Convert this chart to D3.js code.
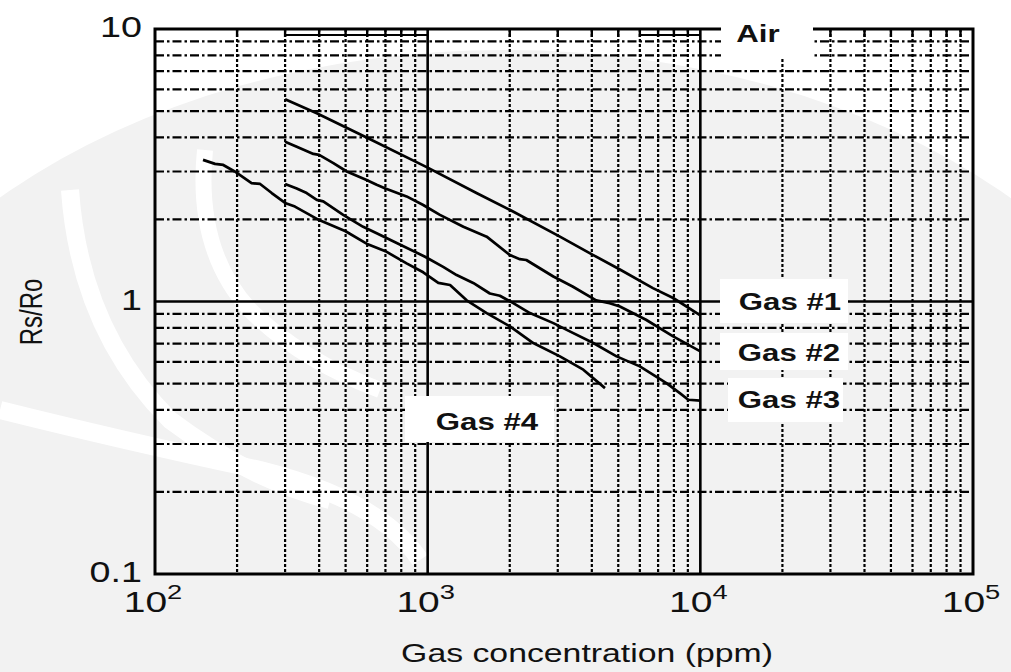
<!DOCTYPE html>
<html>
<head>
<meta charset="utf-8">
<script src="https://cdn.jsdelivr.net/npm/d3@7"></script>
<style>
  body { margin: 0; background: #fff; }
  svg { display: block; }
  text { font-family: "Liberation Sans", Arial, Helvetica, sans-serif; fill: #111; }
</style>
</head>
<body>
<svg id="chart" width="1011" height="672"></svg>
<script>
// ---- data -------------------------------------------------------------
const xDomain = [100, 100000];          // gas concentration, ppm
const yDomain = [0.1, 10];              // Rs/Ro
const xTickExponents = [2, 3, 4, 5];    // labels 10^n
const yTickLabels = ["0.1", "1", "10"];
const yTickValues = [0.1, 1, 10];

const gas1Ppm   = [300, 392, 597, 1000, 1510, 2000, 3055, 4050, 5070, 6700, 7950, 10000];
const gas1Ratio = [5.52, 4.91, 4.0, 3.1, 2.5, 2.17, 1.73, 1.48, 1.31, 1.12, 1.03, 0.89];

const gas2Ppm   = [300, 331, 381, 400, 451, 505, 597, 650, 700, 837, 963, 1109, 1352, 1646, 2004, 2178, 2300, 2890, 3400, 4150, 4650, 5070, 6320, 7950, 10000];
const gas2Ratio = [3.86, 3.70, 3.48, 3.45, 3.22, 3.0, 2.79, 2.68, 2.60, 2.43, 2.26, 2.08, 1.88, 1.73, 1.48, 1.43, 1.42, 1.235, 1.135, 1.01, 0.986, 0.959, 0.857, 0.745, 0.656];

const gas3Ppm   = [300, 331, 360, 392, 414, 490, 580, 650, 770, 978, 1140, 1277, 1469, 1691, 1840, 2060, 2372, 2890, 3236, 4050, 4930, 6000, 7510, 8410, 9030, 10000];
const gas3Ratio = [2.70, 2.60, 2.50, 2.36, 2.33, 2.08, 1.88, 1.78, 1.64, 1.46, 1.34, 1.25, 1.17, 1.07, 1.05, 0.986, 0.907, 0.833, 0.787, 0.704, 0.629, 0.578, 0.502, 0.461, 0.436, 0.433];

const gas4Ppm   = [150, 166, 178, 196, 226, 243, 268, 300, 326, 400, 500, 597, 700, 837, 963, 1094, 1208, 1390, 1646, 2004, 2439, 3055, 3722, 4470];
const gas4Ratio = [3.31, 3.20, 3.17, 3.0, 2.72, 2.70, 2.50, 2.30, 2.23, 1.99, 1.81, 1.63, 1.53, 1.38, 1.28, 1.17, 1.15, 1.01, 0.907, 0.81, 0.704, 0.629, 0.562, 0.481];

const seriesNames = ["Gas #1", "Gas #2", "Gas #3", "Gas #4"];
const xTitle = "Gas concentration (ppm)";
const yTitle = "Rs/Ro";
const airLabel = "Air";

// ---- layout -----------------------------------------------------------
const svg = d3.select("#chart");
const plotLeft = 155, plotRight = 973, plotTop = 29, plotBottom = 574;
const SX = 1.3;   // the lettering is set wide

const x = d3.scaleLog().domain(xDomain).range([plotLeft, plotRight]);
const y = d3.scaleLog().domain(yDomain).range([plotBottom, plotTop]);

const isDecade = v => Math.abs(Math.log10(v) - Math.round(Math.log10(v))) < 1e-9;
const xMinor = x.ticks().filter(v => !isDecade(v));
const yMinor = y.ticks().filter(v => !isDecade(v));
const xMajor = x.ticks().filter(v => isDecade(v) && v > xDomain[0] && v < xDomain[1]);
const yMajor = y.ticks().filter(v => isDecade(v) && v > yDomain[0] && v < yDomain[1]);

svg.append("rect").attr("width", 1011).attr("height", 672).attr("fill", "#fff");

// faint backdrop emblem behind the chart
const emblem = svg.append("g");
emblem.append("ellipse")
  .attr("cx", 505).attr("cy", 530).attr("rx", 700).attr("ry", 480)
  .attr("fill", "#f2f2f2");
emblem.append("path")
  .attr("d", "M70,190 Q80,330 170,420 Q250,480 330,500")
  .attr("fill", "none").attr("stroke", "#fff").attr("stroke-width", 18);
emblem.append("path")
  .attr("d", "M205,150 Q195,250 250,310 Q300,360 380,390")
  .attr("fill", "none").attr("stroke", "#fff").attr("stroke-width", 16);
emblem.append("path")
  .attr("d", "M0,410 Q120,440 260,470 Q380,500 420,560")
  .attr("fill", "none").attr("stroke", "#fff").attr("stroke-width", 18);

// ---- grid -------------------------------------------------------------
const grid = svg.append("g").attr("stroke", "#000").attr("fill", "none");

grid.selectAll(".hmin").data(yMinor).join("line")
  .attr("x1", plotLeft).attr("x2", plotRight)
  .attr("y1", d => y(d)).attr("y2", d => y(d))
  .attr("stroke-width", 2.2)
  .attr("stroke-dasharray", "9,3,2.5,3");

grid.selectAll(".vmin").data(xMinor).join("line")
  .attr("x1", d => x(d)).attr("x2", d => x(d))
  .attr("y1", plotTop).attr("y2", plotBottom)
  .attr("stroke-width", 2.2)
  .attr("stroke-dasharray", "3,2");

// short solid stubs where the minor verticals meet the top frame
grid.selectAll(".vstub").data(xMinor).join("line")
  .attr("x1", d => x(d)).attr("x2", d => x(d))
  .attr("y1", plotTop).attr("y2", plotTop + 8)
  .attr("stroke-width", 2.4);

// second rule just under the top frame
[[300, 1000], [6000, 10000]].forEach(([a, b]) => {
  grid.append("line")
    .attr("x1", x(a)).attr("x2", x(b))
    .attr("y1", plotTop + 6).attr("y2", plotTop + 6)
    .attr("stroke-width", 2);
});

grid.selectAll(".vmaj").data(xMajor).join("line")
  .attr("x1", d => x(d)).attr("x2", d => x(d))
  .attr("y1", plotTop).attr("y2", plotBottom)
  .attr("stroke-width", 2.6);

grid.selectAll(".hmaj").data(yMajor).join("line")
  .attr("x1", plotLeft).attr("x2", plotRight)
  .attr("y1", d => y(d)).attr("y2", d => y(d))
  .attr("stroke-width", 2.6);

// frame
svg.append("rect")
  .attr("x", plotLeft).attr("y", plotTop)
  .attr("width", plotRight - plotLeft).attr("height", plotBottom - plotTop)
  .attr("fill", "none").attr("stroke", "#000").attr("stroke-width", 3);

// ---- label panels (white, they interrupt the grid) ---------------------
const panels = [
  { x0: 721, x1: 813, y0: 12, y1: 58 },   // Air
  { x0: 720, x1: 848, y0: 279, y1: 323 }, // Gas #1
  { x0: 720, x1: 848, y0: 333, y1: 370 }, // Gas #2
  { x0: 728, x1: 843, y0: 378, y1: 422 }, // Gas #3
  { x0: 405, x1: 554, y0: 396, y1: 442 }  // Gas #4
];
svg.selectAll(".panel").data(panels).join("rect")
  .attr("x", d => d.x0).attr("y", d => d.y0)
  .attr("width", d => d.x1 - d.x0).attr("height", d => d.y1 - d.y0)
  .attr("fill", "#fff");

// ---- curves -----------------------------------------------------------
const series = [
  { ppm: gas1Ppm, ratio: gas1Ratio },
  { ppm: gas2Ppm, ratio: gas2Ratio },
  { ppm: gas3Ppm, ratio: gas3Ratio },
  { ppm: gas4Ppm, ratio: gas4Ratio }
];
const line = d3.line().x(d => x(d[0])).y(d => y(d[1]));
svg.selectAll(".curve").data(series).join("path")
  .attr("d", s => line(s.ppm.map((p, i) => [p, s.ratio[i]])))
  .attr("fill", "none").attr("stroke", "#000")
  .attr("stroke-width", 2.7).attr("stroke-linejoin", "round");

// ---- text -------------------------------------------------------------
function wideText(str, px, py, size, anchor, weight) {
  return svg.append("text")
    .attr("transform", `translate(${px},${py}) scale(${SX},1)`)
    .attr("text-anchor", anchor)
    .attr("font-size", size)
    .attr("font-weight", weight || "normal")
    .text(str);
}

// y tick labels
yTickValues.forEach((v, i) => wideText(yTickLabels[i], 142, y(v) + 8, 29, "end"));

// x tick labels 10^n
xTickExponents.forEach(n => {
  const t = svg.append("text")
    .attr("transform", `translate(${x(Math.pow(10, n)) - 2},612) scale(${SX},1)`)
    .attr("text-anchor", "middle")
    .attr("font-size", 30);
  t.append("tspan").text("10");
  t.append("tspan").attr("font-size", 21).attr("dy", -13).text(n);
});

// axis titles
wideText(xTitle, 587, 662, 26, "middle");
svg.append("text")
  .attr("transform", `translate(42,312) scale(${SX},1) rotate(-90)`)
  .attr("text-anchor", "middle")
  .attr("font-size", 24)
  .text(yTitle);

// curve labels
wideText(airLabel, 758, 42, 24, "middle", "bold");
const labelPos = [[790, 310], [789, 361], [789, 408], [487, 430]];
seriesNames.forEach((name, i) => wideText(name, labelPos[i][0], labelPos[i][1], 24, "middle", "bold"));
</script>
</body>
</html>
